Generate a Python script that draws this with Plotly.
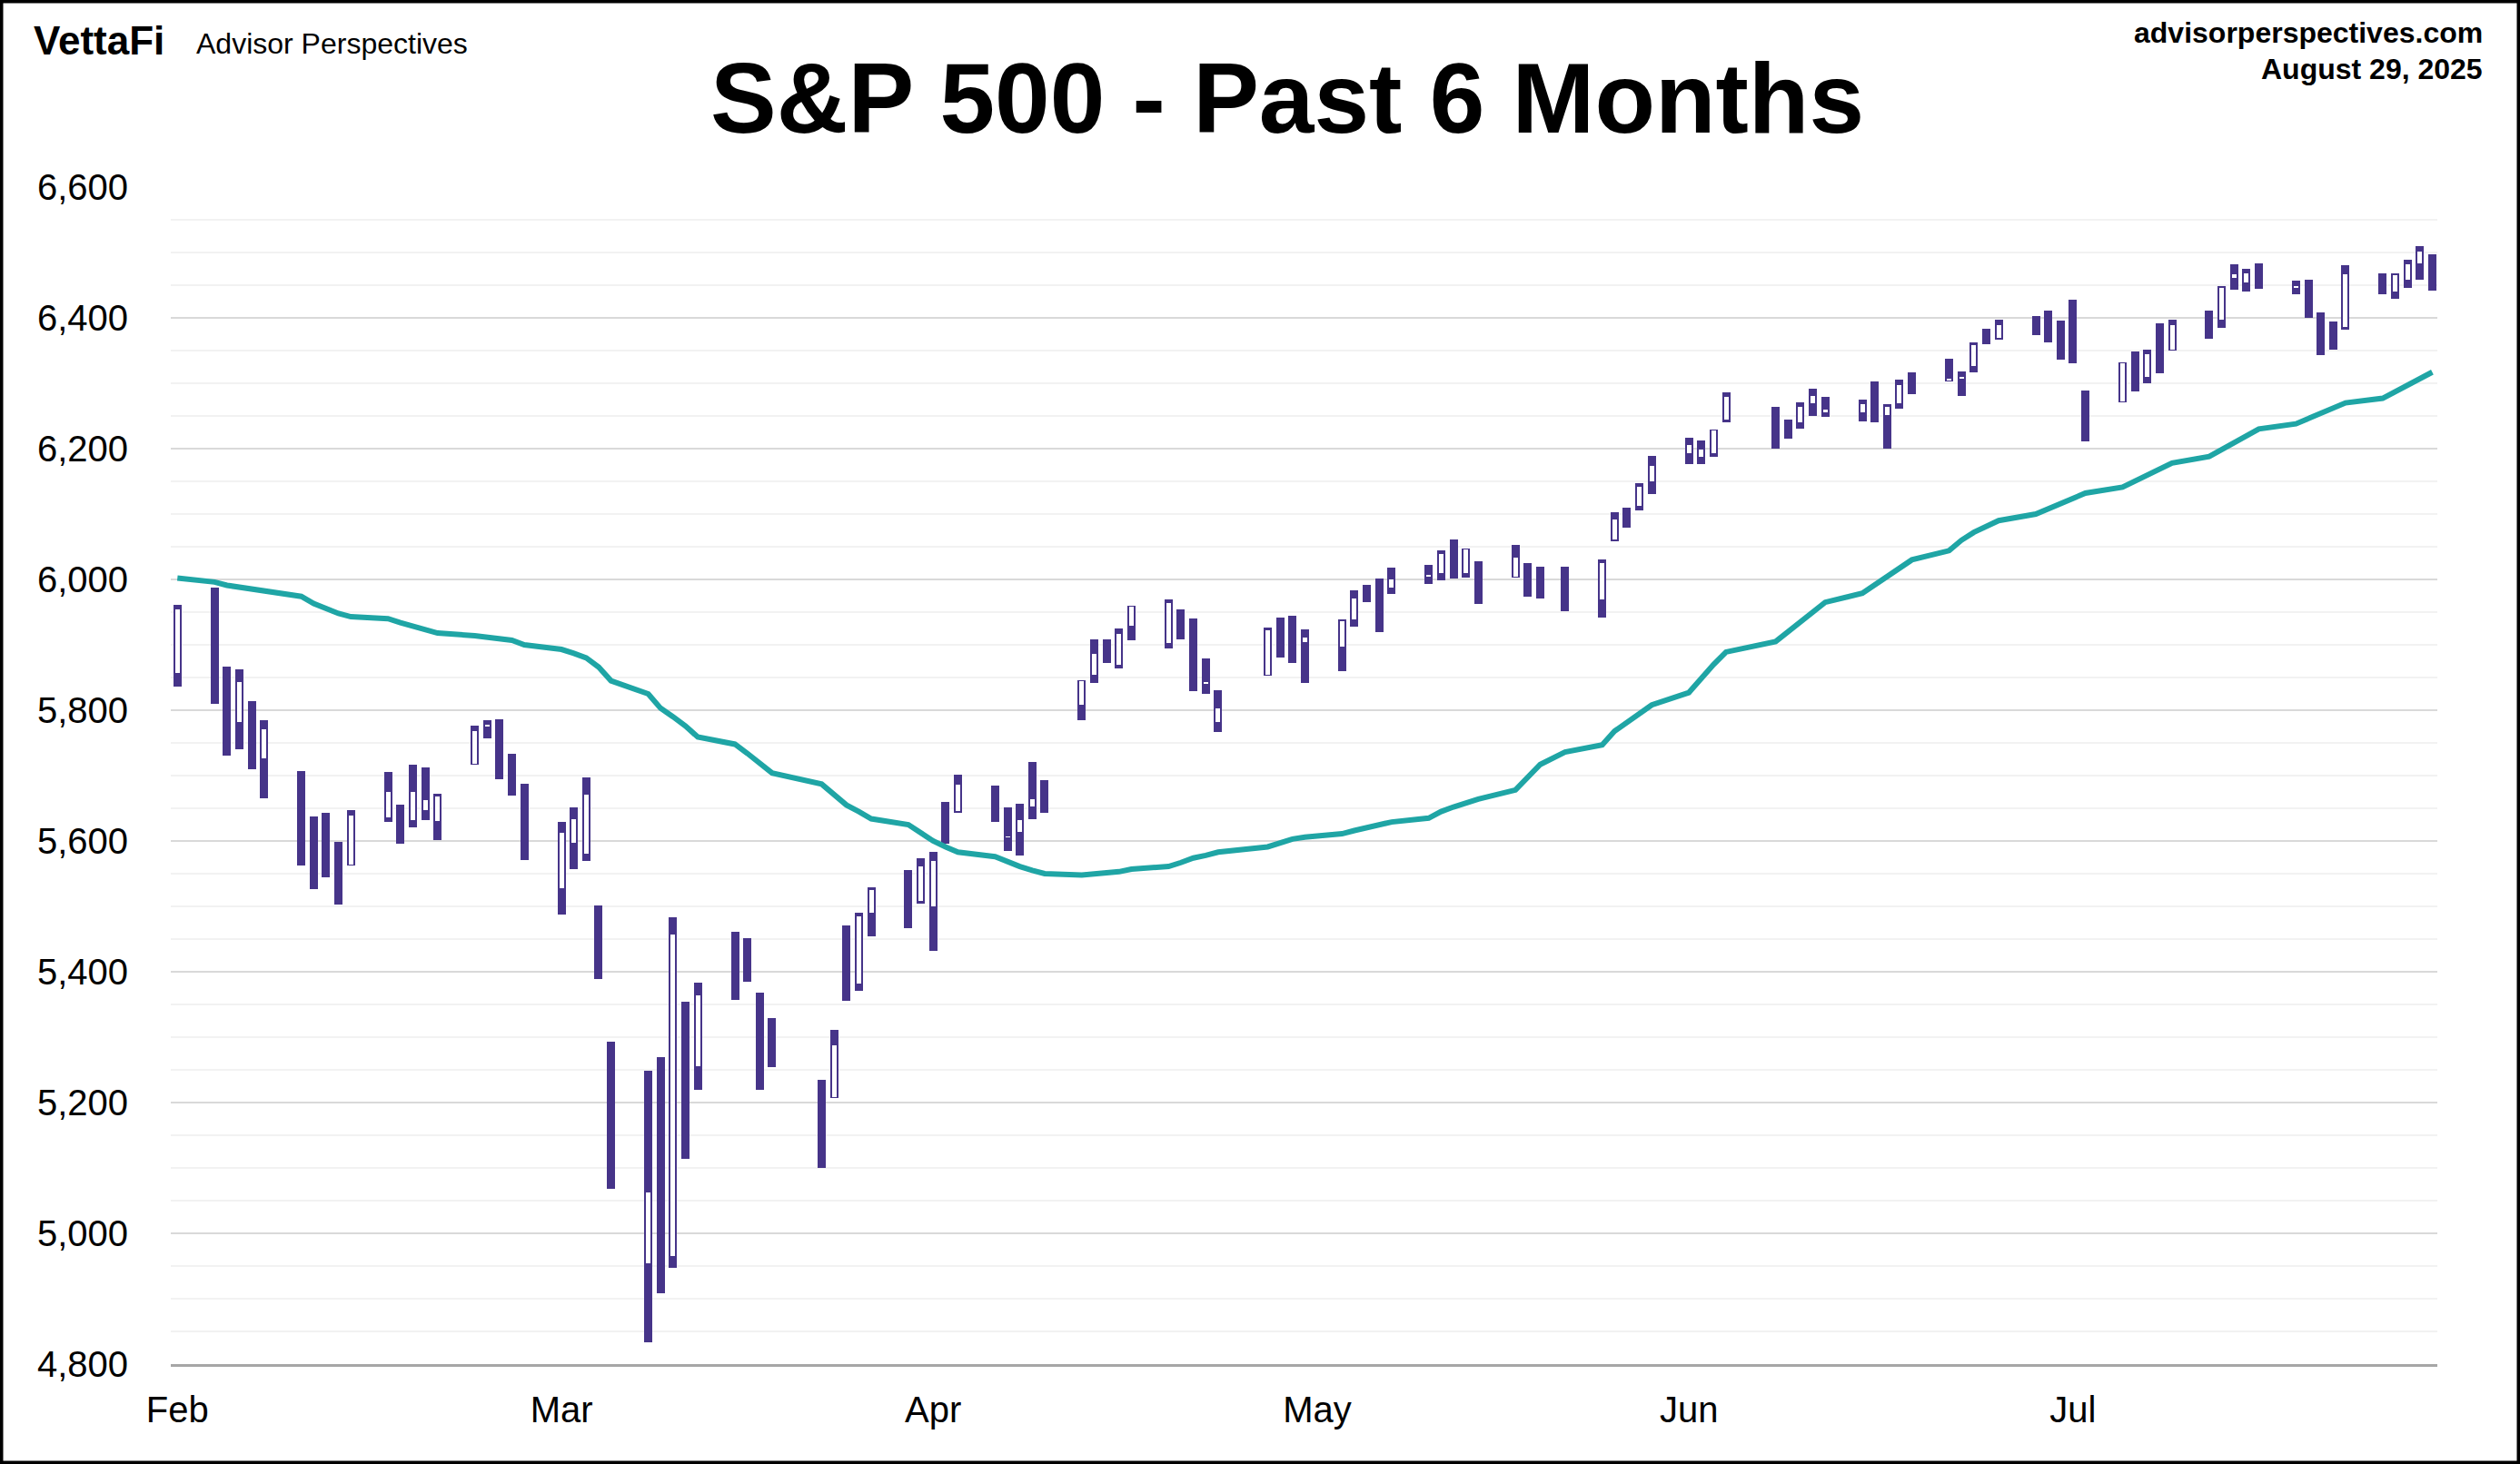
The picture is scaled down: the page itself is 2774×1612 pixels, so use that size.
import plotly.graph_objects as go

# ---------------- data ----------------
dates = [
    "2025-02-28", "2025-03-03", "2025-03-04", "2025-03-05", "2025-03-06", "2025-03-07",
    "2025-03-10", "2025-03-11", "2025-03-12", "2025-03-13", "2025-03-14",
    "2025-03-17", "2025-03-18", "2025-03-19", "2025-03-20", "2025-03-21",
    "2025-03-24", "2025-03-25", "2025-03-26", "2025-03-27", "2025-03-28",
    "2025-03-31", "2025-04-01", "2025-04-02", "2025-04-03", "2025-04-04",
    "2025-04-07", "2025-04-08", "2025-04-09", "2025-04-10", "2025-04-11",
    "2025-04-14", "2025-04-15", "2025-04-16", "2025-04-17",
    "2025-04-21", "2025-04-22", "2025-04-23", "2025-04-24", "2025-04-25",
    "2025-04-28", "2025-04-29", "2025-04-30", "2025-05-01", "2025-05-02",
    "2025-05-05", "2025-05-06", "2025-05-07", "2025-05-08", "2025-05-09",
    "2025-05-12", "2025-05-13", "2025-05-14", "2025-05-15", "2025-05-16",
    "2025-05-19", "2025-05-20", "2025-05-21", "2025-05-22", "2025-05-23",
    "2025-05-27", "2025-05-28", "2025-05-29", "2025-05-30",
    "2025-06-02", "2025-06-03", "2025-06-04", "2025-06-05", "2025-06-06",
    "2025-06-09", "2025-06-10", "2025-06-11", "2025-06-12", "2025-06-13",
    "2025-06-16", "2025-06-17", "2025-06-18", "2025-06-20",
    "2025-06-23", "2025-06-24", "2025-06-25", "2025-06-26", "2025-06-27",
    "2025-06-30", "2025-07-01", "2025-07-02", "2025-07-03",
    "2025-07-07", "2025-07-08", "2025-07-09", "2025-07-10", "2025-07-11",
    "2025-07-14", "2025-07-15", "2025-07-16", "2025-07-17", "2025-07-18",
    "2025-07-21", "2025-07-22", "2025-07-23", "2025-07-24", "2025-07-25",
    "2025-07-28", "2025-07-29", "2025-07-30", "2025-07-31", "2025-08-01",
    "2025-08-04", "2025-08-05", "2025-08-06", "2025-08-07", "2025-08-08",
    "2025-08-11", "2025-08-12", "2025-08-13", "2025-08-14", "2025-08-15",
    "2025-08-18", "2025-08-19", "2025-08-20", "2025-08-21", "2025-08-22",
    "2025-08-25", "2025-08-26", "2025-08-27", "2025-08-28", "2025-08-29",
]

opens = [
    5856.74, 5968.33, 5811.98, 5781.36, 5785.87, 5726.01,
    5705.37, 5603.65, 5624.84, 5594.45, 5563.85,
    5635.60, 5654.53, 5632.37, 5646.92, 5630.73,
    5718.08, 5775.86, 5771.66, 5695.64, 5679.34,
    5527.91, 5597.53, 5580.76, 5492.74, 5292.14,
    4953.79, 5193.57, 4965.28, 5353.15, 5255.56,
    5441.96, 5411.99, 5335.75, 5305.45,
    5232.94, 5207.67, 5395.92, 5381.38, 5489.73,
    5529.22, 5508.87, 5499.44, 5625.14, 5645.49,
    5665.97, 5605.88, 5614.01, 5652.28, 5679.10,
    5807.65, 5854.80, 5900.50, 5869.50, 5929.09,
    5902.88, 5944.66, 5928.31, 5841.26, 5781.89,
    5854.07, 5925.71, 5939.92, 5903.67,
    5896.68, 5938.56, 5978.94, 5985.67, 5987.06,
    6004.60, 6009.91, 6049.38, 6009.90, 6000.56,
    6004.00, 6012.15, 5987.93, 6004.50,
    5969.67, 6061.21, 6104.22, 6112.15, 6150.70,
    6193.36, 6187.25, 6193.50, 6243.97,
    6259.88, 6235.51, 6240.66, 6270.09, 6255.62,
    6255.15, 6295.29, 6250.77, 6269.74, 6311.27,
    6304.74, 6306.60, 6326.90, 6368.60, 6370.01,
    6397.69, 6409.26, 6386.07, 6427.02, 6287.28,
    6271.71, 6336.55, 6309.30, 6374.58, 6351.81,
    6389.67, 6397.30, 6460.57, 6453.85, 6478.87,
    6445.66, 6446.49, 6405.83, 6386.14, 6386.00,
    6457.67, 6440.96, 6457.93, 6483.11, 6494.49,
]

highs = [
    5959.40, 5986.09, 5865.08, 5860.59, 5812.08, 5783.01,
    5705.37, 5636.30, 5642.19, 5597.78, 5645.27,
    5703.52, 5654.53, 5715.33, 5711.15, 5670.84,
    5775.14, 5784.00, 5784.62, 5732.28, 5685.89,
    5627.56, 5650.57, 5695.31, 5499.53, 5292.14,
    5246.57, 5267.47, 5481.34, 5353.15, 5381.46,
    5459.46, 5450.41, 5367.24, 5328.31,
    5232.94, 5309.60, 5469.69, 5489.40, 5528.11,
    5553.66, 5571.95, 5581.84, 5658.91, 5700.70,
    5683.50, 5649.84, 5655.81, 5720.10, 5691.68,
    5844.19, 5906.63, 5906.95, 5924.08, 5958.62,
    5968.61, 5953.06, 5938.37, 5878.08, 5829.51,
    5924.33, 5940.00, 5943.13, 5922.14,
    5937.40, 5981.35, 5990.48, 5999.70, 6016.87,
    6021.31, 6043.01, 6059.40, 6045.43, 6026.16,
    6050.83, 6023.25, 6018.25, 6018.20,
    6028.81, 6101.80, 6108.51, 6146.52, 6187.68,
    6215.08, 6210.78, 6227.60, 6284.65,
    6262.73, 6242.70, 6269.21, 6290.22, 6278.05,
    6273.31, 6302.04, 6266.30, 6304.70, 6315.61,
    6336.08, 6316.00, 6360.64, 6381.31, 6395.82,
    6401.07, 6409.26, 6394.70, 6427.02, 6287.28,
    6329.94, 6346.97, 6349.34, 6389.79, 6395.16,
    6409.40, 6446.54, 6480.28, 6473.08, 6481.34,
    6455.40, 6456.65, 6406.96, 6393.47, 6479.00,
    6466.89, 6466.96, 6488.14, 6508.23, 6495.54,
]

lows = [
    5837.66, 5810.91, 5732.59, 5742.35, 5711.64, 5666.29,
    5564.02, 5528.41, 5546.09, 5504.65, 5563.85,
    5631.12, 5597.76, 5622.20, 5632.90, 5603.10,
    5718.08, 5759.00, 5695.26, 5670.94, 5572.42,
    5488.73, 5558.52, 5571.48, 5390.83, 5069.90,
    4835.04, 4910.42, 4948.43, 5115.27, 5220.77,
    5358.02, 5386.44, 5220.79, 5255.58,
    5101.63, 5207.67, 5356.73, 5371.96, 5455.86,
    5468.64, 5505.70, 5433.24, 5597.35, 5644.39,
    5631.14, 5586.45, 5579.00, 5635.00, 5644.59,
    5786.00, 5843.60, 5873.00, 5865.50, 5907.87,
    5895.69, 5909.26, 5830.91, 5825.82, 5767.41,
    5854.07, 5882.00, 5873.80, 5843.66,
    5861.43, 5929.00, 5966.11, 5921.20, 5978.63,
    5994.18, 6000.25, 6002.32, 6003.88, 5963.21,
    6004.00, 5974.80, 5971.89, 5952.56,
    5943.23, 6059.28, 6080.10, 6107.27, 6132.35,
    6177.97, 6177.97, 6188.29, 6241.98,
    6201.01, 6217.24, 6231.92, 6251.38, 6249.83,
    6242.72, 6241.53, 6201.62, 6262.28, 6285.36,
    6303.79, 6282.00, 6317.49, 6360.57, 6368.53,
    6375.51, 6363.84, 6337.00, 6332.46, 6212.69,
    6271.71, 6289.38, 6300.97, 6316.42, 6350.93,
    6368.76, 6385.77, 6445.02, 6441.10, 6445.49,
    6437.85, 6401.13, 6343.86, 6352.79, 6384.00,
    6438.06, 6430.40, 6447.38, 6459.97, 6443.21,
]

closes = [
    5954.50, 5849.72, 5778.15, 5842.63, 5738.52, 5770.20,
    5614.56, 5572.07, 5599.30, 5521.52, 5638.94,
    5675.12, 5614.66, 5675.29, 5662.89, 5667.56,
    5767.57, 5776.65, 5712.20, 5693.31, 5580.94,
    5611.85, 5633.07, 5670.97, 5396.52, 5074.08,
    5062.25, 4982.77, 5456.90, 5268.05, 5363.36,
    5405.97, 5396.63, 5275.70, 5282.70,
    5158.20, 5287.76, 5375.86, 5484.77, 5525.21,
    5528.75, 5560.83, 5569.06, 5604.14, 5686.67,
    5650.38, 5606.91, 5631.28, 5663.94, 5659.91,
    5844.19, 5886.55, 5892.58, 5916.93, 5958.38,
    5963.60, 5940.46, 5844.61, 5842.01, 5802.82,
    5921.54, 5888.55, 5912.17, 5911.69,
    5935.94, 5970.37, 5970.81, 5939.30, 6000.36,
    6005.88, 6038.81, 6022.24, 6045.26, 5976.97,
    6033.11, 5982.72, 5980.87, 5967.84,
    6025.17, 6092.18, 6092.16, 6141.02, 6173.07,
    6204.95, 6198.01, 6227.42, 6279.35,
    6229.98, 6225.52, 6263.26, 6280.46, 6259.75,
    6268.56, 6243.76, 6263.70, 6297.36, 6296.79,
    6305.60, 6309.62, 6358.91, 6363.35, 6388.64,
    6389.77, 6370.86, 6362.90, 6339.39, 6238.01,
    6329.94, 6299.19, 6345.06, 6340.00, 6389.45,
    6373.45, 6445.76, 6466.58, 6468.54, 6449.80,
    6449.15, 6411.37, 6395.78, 6370.17, 6466.91,
    6439.32, 6465.94, 6481.40, 6501.86, 6460.26,
]

ma50 = [
    6002, 5996, 5991, 5988, 5985, 5981,
    5974, 5963, 5955, 5948, 5943,
    5940, 5934, 5929, 5923, 5918,
    5914, 5912, 5910, 5907, 5900,
    5893, 5887, 5880, 5866, 5845,
    5825, 5803, 5790, 5776, 5759,
    5748, 5734, 5719, 5704,
    5687, 5671, 5655, 5645, 5634,
    5625, 5613, 5600, 5591, 5583,
    5576, 5568, 5561, 5555, 5550,
    5548, 5549, 5550, 5553, 5557,
    5561, 5567, 5574, 5578, 5583,
    5591, 5597, 5603, 5606,
    5611, 5616, 5621, 5626, 5629,
    5635, 5645, 5652, 5659, 5664,
    5678, 5698, 5717, 5736,
    5747, 5768, 5781, 5795, 5808,
    5827, 5849, 5870, 5889,
    5905, 5920, 5935, 5950, 5965,
    5979, 5992, 6004, 6017, 6030,
    6044, 6060, 6072, 6081, 6090,
    6100, 6108, 6116, 6124, 6132,
    6141, 6150, 6160, 6169, 6178,
    6188, 6198, 6209, 6219, 6230,
    6238, 6246, 6254, 6262, 6270,
    6277, 6287, 6297, 6307, 6317,
]

month_tick_dates = ["2025-02-28", "2025-03-31", "2025-04-30", "2025-05-31", "2025-06-30", "2025-07-31"]
month_tick_labels = ["Feb", "Mar", "Apr", "May", "Jun", "Jul"]

title_text = "S&P 500 - Past 6 Months"
site_text = "advisorperspectives.com"
date_text = "August 29, 2025"
brand_text = "VettaFi"
brand_sub_text = "Advisor Perspectives"

# ---------------- styling / layout ----------------
W, H = 2774, 1612
ML, MR, MT, MB = 188, 91, 206, 110
PW, PH = W - ML - MR, H - MT - MB
PX_PER_DAY = 13.638
MS_PER_PX = 86400000 / PX_PER_DAY

PURPLE = "#463489"
TEAL = "#1fa5a5"
FONT = "Liberation Sans, Arial, sans-serif"


def px(xp, yp):
    return (xp - ML) / PW, (H - MB - yp) / PH


up_x, up_base, up_h = [], [], []
for d, o, c in zip(dates, opens, closes):
    if c > o:
        up_x.append(d)
        up_base.append(o)
        up_h.append(c - o)

fig = go.Figure()
fig.add_trace(go.Bar(
    x=dates, y=[h - l for h, l in zip(highs, lows)], base=lows,
    width=[7 * MS_PER_PX] * len(dates),
    marker=dict(color=PURPLE, line=dict(color=PURPLE, width=2)),
    hoverinfo="skip", showlegend=False,
))
fig.add_trace(go.Bar(
    x=up_x, y=up_h, base=up_base,
    width=[5 * MS_PER_PX] * len(up_x),
    marker=dict(color="white", line=dict(width=0)),
    hoverinfo="skip", showlegend=False,
))
fig.add_trace(go.Scatter(
    x=dates, y=ma50, mode="lines",
    line=dict(color=TEAL, width=6),
    hoverinfo="skip", showlegend=False,
))

annotations = []
tx, ty = px(1417, 108)
annotations.append(dict(text=f"<b>{title_text}</b>", x=tx, y=ty, xref="paper", yref="paper",
                        xanchor="center", yanchor="middle", showarrow=False,
                        font=dict(family=FONT, size=109, color="black")))
sx, sy = px(2735, 36)
annotations.append(dict(text=f"<b>{site_text}</b>", x=sx, y=sy, xref="paper", yref="paper",
                        xanchor="right", yanchor="middle", showarrow=False,
                        font=dict(family=FONT, size=32, color="black")))
dx, dy = px(2735, 76)
annotations.append(dict(text=f"<b>{date_text}</b>", x=dx, y=dy, xref="paper", yref="paper",
                        xanchor="right", yanchor="middle", showarrow=False,
                        font=dict(family=FONT, size=32, color="black")))
bx, by = px(35, 45)
annotations.append(dict(text=f"<b>{brand_text}</b>", x=bx, y=by, xref="paper", yref="paper",
                        xanchor="left", yanchor="middle", showarrow=False,
                        font=dict(family=FONT, size=44, color="black")))
ax_, ay_ = px(214, 48)
annotations.append(dict(text=brand_sub_text, x=ax_, y=ay_, xref="paper", yref="paper",
                        xanchor="left", yanchor="middle", showarrow=False,
                        font=dict(family=FONT, size=32, color="black")))

bx0, by0 = px(1.75, H - 1.75)
bx1, by1 = px(W - 1.75, 1.75)
shapes = [dict(type="rect", xref="paper", yref="paper", x0=bx0, y0=by0, x1=bx1, y1=by1,
               line=dict(color="black", width=3.5), fillcolor="rgba(0,0,0,0)", layer="above")]

fig.update_layout(
    width=W, height=H,
    margin=dict(l=ML, r=MR, t=MT, b=MB, pad=0),
    paper_bgcolor="white", plot_bgcolor="white",
    barmode="overlay", bargap=0,
    font=dict(family=FONT, color="black"),
    annotations=annotations, shapes=shapes,
    xaxis=dict(
        type="date",
        range=["2025-02-27 11:10", "2025-08-29 09:50"],
        tickmode="array", tickvals=month_tick_dates, ticktext=month_tick_labels,
        showgrid=False, zeroline=False,
        showline=True, linecolor="#a6a6a6", linewidth=3,
        ticks="", tickfont=dict(family=FONT, size=40, color="black"),
        ticklabelstandoff=13,
    ),
    yaxis=dict(
        range=[4800, 6600], tick0=4800, dtick=200, tickformat=",",
        showgrid=True, gridcolor="#d9d9d9", gridwidth=2,
        minor=dict(tick0=4800, dtick=50, showgrid=True, gridcolor="#f2f2f2", gridwidth=2),
        zeroline=False, showline=False,
        ticks="", tickfont=dict(family=FONT, size=40, color="black"),
        ticklabelstandoff=46,
    ),
)

fig.write_html("out.html")
